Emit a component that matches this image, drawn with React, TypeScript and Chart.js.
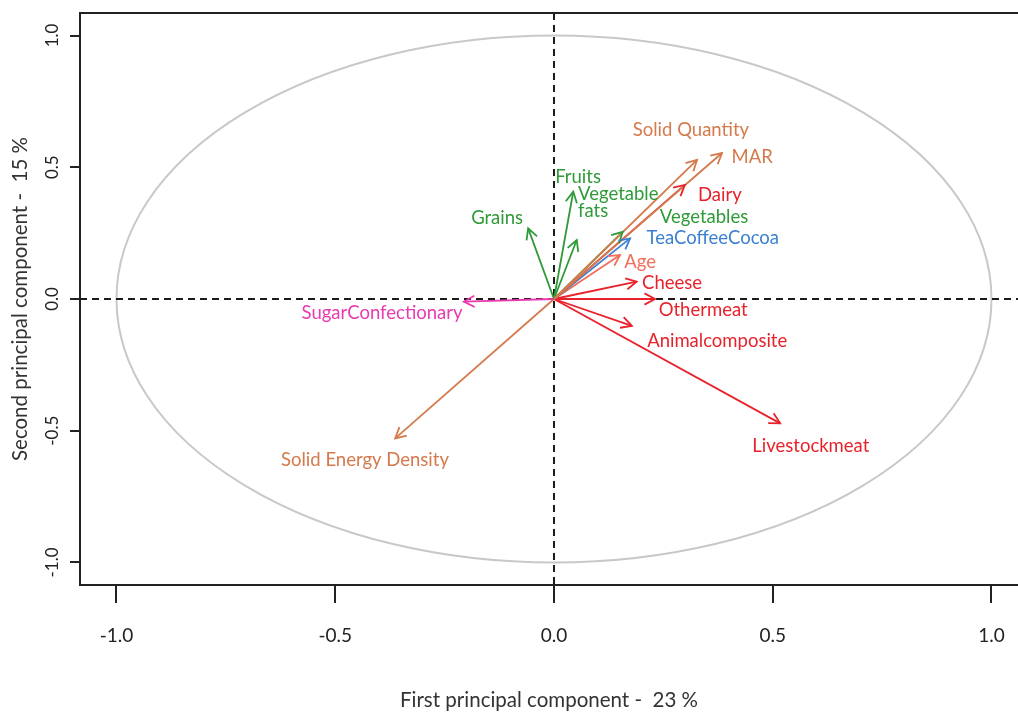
import React, { useEffect, useRef } from 'react';
import { Chart, registerables } from 'chart.js';

Chart.register(...registerables);

// ---- data ----
const variables = [
  'Solid Quantity', 'MAR', 'Dairy', 'Vegetables', 'TeaCoffeeCocoa', 'Age', 'Cheese',
  'Othermeat', 'Animalcomposite', 'Livestockmeat', 'Grains', 'Fruits', 'Vegetable\nfats',
  'SugarConfectionary', 'Solid Energy Density',
];
const pc1 = [0.327, 0.384, 0.299, 0.157, 0.174, 0.151, 0.189, 0.231, 0.178, 0.517, -0.059, 0.044, 0.052, -0.206, -0.363];
const pc2 = [0.528, 0.554, 0.433, 0.255, 0.230, 0.167, 0.066, 0.000, -0.102, -0.472, 0.268, 0.407, 0.224, -0.010, -0.529];
const groups = [
  'quantity', 'quantity', 'animal', 'plant', 'beverage', 'age', 'animal',
  'animal', 'animal', 'animal', 'plant', 'plant', 'plant', 'sugar', 'quantity',
];
// label anchor positions (data units)
const labelX = [0.313, 0.453, 0.379, 0.343, 0.363, 0.197, 0.270, 0.341, 0.373, 0.587, -0.130, 0.055, 0.055, -0.393, -0.432];
const labelY = [0.641, 0.539, 0.395, 0.311, 0.231, 0.140, 0.061, -0.042, -0.159, -0.558, 0.307, 0.463, 0.398, -0.053, -0.611];
const labelAlign = ['center', 'center', 'center', 'center', 'center', 'center', 'center', 'center', 'center', 'center', 'center', 'center', 'left', 'center', 'center'];
const tickValues = [-1, -0.5, 0, 0.5, 1];
const xTitle = 'First principal component -  23 %';
const yTitle = 'Second principal component -  15 %';

// ---- styles ----
const groupColors: Record<string, string> = {
  quantity: '#D47A4C',
  animal: '#E8222B',
  plant: '#2F9A38',
  beverage: '#3C80D2',
  age: '#F26D5A',
  sugar: '#E93AB0',
};
const FONT = 'Lato, "Open Sans", sans-serif';

export default function App() {
  const ref = useRef<HTMLCanvasElement>(null);

  useEffect(() => {
    document.body.style.margin = '0';
    const canvas = ref.current!;

    const overlay = {
      id: 'pcaOverlay',
      beforeDatasetsDraw(chart: any) {
        const { ctx, chartArea, scales } = chart;
        const x = scales.x, y = scales.y;
        const cx = x.getPixelForValue(0);
        const cy = y.getPixelForValue(0);
        const rx = x.getPixelForValue(1) - cx;
        const ry = cy - y.getPixelForValue(1);
        ctx.save();
        ctx.beginPath();
        ctx.rect(chartArea.left, chartArea.top, chartArea.right - chartArea.left, chartArea.bottom - chartArea.top);
        ctx.clip();
        ctx.beginPath();
        ctx.ellipse(cx, cy, rx, ry, 0, 0, Math.PI * 2);
        ctx.strokeStyle = '#c8c8c8';
        ctx.lineWidth = 2;
        ctx.stroke();
        ctx.setLineDash([7, 5]);
        ctx.strokeStyle = '#1a1a1a';
        ctx.lineWidth = 2;
        ctx.beginPath();
        ctx.moveTo(chartArea.left, cy);
        ctx.lineTo(chartArea.right, cy);
        ctx.moveTo(cx, chartArea.top);
        ctx.lineTo(cx, chartArea.bottom);
        ctx.stroke();
        ctx.restore();
      },
      afterDatasetsDraw(chart: any) {
        const { ctx, scales } = chart;
        const x = scales.x, y = scales.y;
        ctx.save();
        // arrowheads
        chart.data.datasets.forEach((ds: any, i: number) => {
          const meta = chart.getDatasetMeta(i);
          const p0 = meta.data[0], p1 = meta.data[1];
          const ang = Math.atan2(p1.y - p0.y, p1.x - p0.x);
          const L = 12, a = (28 * Math.PI) / 180;
          ctx.strokeStyle = ds.borderColor;
          ctx.lineWidth = 1.8;
          ctx.beginPath();
          ctx.moveTo(p1.x - L * Math.cos(ang - a), p1.y - L * Math.sin(ang - a));
          ctx.lineTo(p1.x, p1.y);
          ctx.lineTo(p1.x - L * Math.cos(ang + a), p1.y - L * Math.sin(ang + a));
          ctx.stroke();
        });
        // labels
        ctx.font = `18.5px ${FONT}`;
        ctx.textBaseline = 'middle';
        variables.forEach((name, i) => {
          const px = x.getPixelForValue(labelX[i]);
          const py = y.getPixelForValue(labelY[i]);
          ctx.fillStyle = groupColors[groups[i]];
          ctx.textAlign = labelAlign[i] as CanvasTextAlign;
          name.split('\n').forEach((line, k) => ctx.fillText(line, px, py + k * 17));
        });
        ctx.restore();
      },
      afterDraw(chart: any) {
        const { ctx, chartArea, scales } = chart;
        const y = scales.y;
        ctx.save();
        // top frame line
        ctx.strokeStyle = '#222';
        ctx.lineWidth = 2;
        ctx.beginPath();
        ctx.moveTo(chartArea.left - 1, chartArea.top);
        ctx.lineTo(chartArea.right, chartArea.top);
        ctx.stroke();
        // rotated y tick labels
        ctx.font = `17px ${FONT}`;
        ctx.fillStyle = '#222';
        ctx.textAlign = 'center';
        ctx.textBaseline = 'middle';
        y.ticks.forEach((t: any) => {
          const py = y.getPixelForValue(t.value);
          ctx.save();
          ctx.translate(chartArea.left - 27, py);
          ctx.rotate(-Math.PI / 2);
          ctx.fillText(Number(t.value).toFixed(1), 0, 0);
          ctx.restore();
        });
        ctx.restore();
      },
    };

    const chart = new Chart(canvas, {
      type: 'scatter',
      data: {
        datasets: variables.map((name, i) => ({
          label: name.replace('\n', ' '),
          data: [{ x: 0, y: 0 }, { x: pc1[i], y: pc2[i] }],
          showLine: true,
          borderColor: groupColors[groups[i]],
          backgroundColor: groupColors[groups[i]],
          borderWidth: 1.8,
          pointRadius: 0,
          pointHoverRadius: 0,
          fill: false,
        })),
      },
      options: {
        animation: false,
        responsive: false,
        layout: { padding: { top: 13, left: 0, right: 0, bottom: 0 } },
        plugins: { legend: { display: false }, tooltip: { enabled: false } },
        events: [],
        scales: {
          x: {
            type: 'linear',
            min: -1.0834,
            max: 1.0606,
            afterBuildTicks: (s: any) => { s.ticks = tickValues.map((v) => ({ value: v })); },
            afterFit: (s: any) => { s.height = 128; s.paddingLeft = 0; s.paddingRight = 0; },
            ticks: {
              callback: (v: any) => Number(v).toFixed(1),
              font: { family: FONT, size: 19 },
              color: '#222',
              padding: 21,
              maxRotation: 0,
              autoSkip: false,
            },
            grid: { drawOnChartArea: false, drawTicks: true, tickLength: 18, color: '#222', lineWidth: 2 },
            border: { display: true, color: '#222', width: 2 },
            title: { display: true, text: xTitle, font: { family: FONT, size: 20.5 }, color: '#333', padding: { top: 0, bottom: 0 } },
          },
          y: {
            type: 'linear',
            min: -1.0854,
            max: 1.0854,
            afterBuildTicks: (s: any) => { s.ticks = tickValues.map((v) => ({ value: v })); },
            afterFit: (s: any) => { s.width = 80; s.paddingTop = 0; s.paddingBottom = 0; },
            ticks: { display: false },
            grid: { drawOnChartArea: false, drawTicks: true, tickLength: 10, color: '#222', lineWidth: 2 },
            border: { display: true, color: '#222', width: 2 },
            title: { display: true, text: yTitle, font: { family: FONT, size: 20.5 }, color: '#333', padding: { top: 8, bottom: 0 } },
          },
        },
      },
      plugins: [overlay],
    } as any);

    return () => chart.destroy();
  }, []);

  return (
    <div style={{ width: 1018, height: 713 }}>
      <canvas ref={ref} width={1018} height={713} style={{ display: 'block' }} />
    </div>
  );
}
